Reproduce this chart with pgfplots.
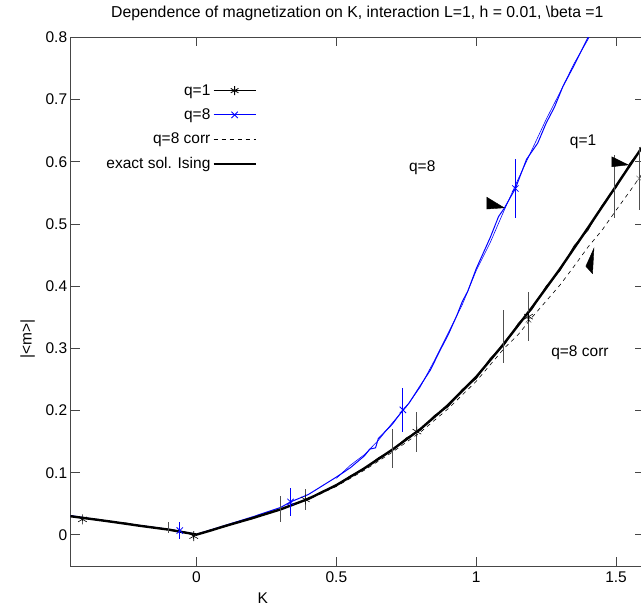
\documentclass[border=0pt]{standalone}
\usepackage{pgfplots}
\pgfplotsset{compat=1.18}
\usepackage{fontspec}
\setmainfont{Liberation Sans}
\definecolor{axgray}{RGB}{70,70,70}
\definecolor{bargray}{RGB}{80,80,80}
\begin{document}
\begin{tikzpicture}[x=1pt,y=1pt]
\begin{axis}[
  at={(70.7pt,42pt)}, anchor=south west,
  scale only axis, width=573.3pt, height=528.6pt,
  xmin=-0.45, xmax=1.6, ymin=-0.05, ymax=0.8,
  xtick={0,0.5,1,1.5}, ytick={0,0.1,0.2,0.3,0.4,0.5,0.6,0.7,0.8},
  tick align=inside, tick pos=both, major tick length=9pt,
  axis line style={axgray, line width=0.9pt},
  every tick/.style={axgray, line width=0.9pt},
  /pgf/number format/assume math mode=true,
  /pgf/number format/fixed,
  font=\fontsize{15.5}{18}\selectfont,
  ticklabel style={font=\fontsize{15.5}{18}\selectfont},
  xticklabel style={yshift=-2pt},
  title={Dependence of magnetization on K, interaction L=1, h = 0.01, \textbackslash beta =1},
  title style={at={(axis description cs:0.5,1.034)}, anchor=center, font=\fontsize{15.8}{18}\selectfont},
  xlabel={K}, xlabel style={at={(axis description cs:0.335,-0.0605)}, anchor=center},
  ylabel={|<m>|}, ylabel style={at={(axis description cs:-0.075,0.43)}, anchor=center},
  legend style={at={(axis description cs:0.325,0.915)}, anchor=north east, draw=none, fill=none,
    font=\fontsize{15.5}{18}\selectfont, row sep=8pt, inner sep=0pt},
  legend cell align=right, legend plot pos=right,
  legend image code/.code={\draw[mark repeat=2,mark phase=2,#1] plot coordinates {(0pt,0pt) (21pt,0pt) (42pt,0pt)};},
  clip=true,
]
\addlegendimage{black, line width=0.8pt, mark=asterisk, mark size=4.5pt}
\addlegendentry{q=1}
\addlegendimage{blue, line width=0.8pt, mark=x, mark size=4.5pt}
\addlegendentry{q=8}
\addlegendimage{black, line width=0.6pt, dash pattern=on 4pt off 4pt}
\addlegendentry{q=8 corr\rule[-10pt]{0pt}{1pt}}
\addlegendimage{black, line width=2.4pt}
\addlegendentry{exact sol. Ising}

% q=8 (blue)
\addplot[blue, line width=1pt, forget plot] coordinates {
(-0.45,0.031) (-0.3,0.021) (-0.1,0.009) (-0.06,0.006) (0,0.001) (0.1,0.015) (0.2,0.029)
(0.3,0.044) (0.336,0.053) (0.4,0.065) (0.45,0.079) (0.5,0.093) (0.55,0.108) (0.6,0.127)
(0.62,0.138) (0.64,0.140) (0.65,0.155) (0.7,0.178) (0.738,0.201) (0.76,0.212) (0.8,0.240)
(0.836,0.265) (0.871,0.297) (0.9,0.322) (0.93,0.352) (0.95,0.375) (0.97,0.392) (1.0,0.428)
(1.05,0.478) (1.08,0.512) (1.10,0.525) (1.14,0.557) (1.18,0.604) (1.22,0.630) (1.25,0.662)
(1.28,0.688) (1.31,0.721) (1.35,0.755) (1.4,0.80) (1.42,0.82)};
\addplot[blue, line width=0.6pt, forget plot] coordinates {
(0.5,0.091) (0.55,0.112) (0.6,0.129) (0.65,0.152) (0.7,0.180) (0.75,0.206) (0.8,0.238)
(0.85,0.280) (0.9,0.325) (0.95,0.370) (1.0,0.425) (1.05,0.470) (1.1,0.522) (1.15,0.572)
(1.2,0.620) (1.25,0.668) (1.3,0.712) (1.35,0.758) (1.4,0.797) (1.42,0.82)};

% q=8 corr (dashed)
\addplot[black, line width=0.6pt, dash pattern=on 4pt off 4pt, forget plot] coordinates {
(-0.45,0.030) (-0.3,0.021) (-0.1,0.009) (0,0.001) (0.1,0.014) (0.2,0.027) (0.3,0.041)
(0.4,0.057) (0.5,0.078) (0.6,0.104) (0.7,0.133) (0.8,0.165) (0.9,0.203) (1.0,0.247)
(1.1,0.300) (1.15,0.322) (1.2,0.350) (1.25,0.376) (1.3,0.402) (1.35,0.432) (1.4,0.463)
(1.45,0.490) (1.5,0.522) (1.55,0.553) (1.6,0.585)};

% q=1 (thin noisy)
\addplot[black, line width=0.7pt, forget plot] coordinates {
(-0.45,0.031) (-0.4,0.026) (-0.35,0.025) (-0.3,0.020) (-0.25,0.019) (-0.2,0.014) (-0.15,0.012)
(-0.1,0.008) (-0.05,0.005) (0,0.000) (0.05,0.008) (0.1,0.013) (0.15,0.021) (0.2,0.026)
(0.25,0.035) (0.3,0.040) (0.35,0.050) (0.4,0.057) (0.45,0.070) (0.5,0.079) (0.55,0.095)
(0.6,0.106) (0.65,0.124) (0.7,0.136) (0.75,0.156) (0.8,0.168) (0.85,0.192) (0.9,0.206)
(0.95,0.234) (1.0,0.251) (1.05,0.284) (1.1,0.305) (1.15,0.340) (1.2,0.363) (1.25,0.400)
(1.3,0.425) (1.35,0.465) (1.4,0.490) (1.45,0.530) (1.5,0.558) (1.55,0.598) (1.6,0.625)};

% exact solution Ising (thick)
\addplot[black, line width=2.4pt, forget plot] coordinates {
(-0.45,0.030) (-0.4,0.027) (-0.3,0.021) (-0.2,0.0145) (-0.1,0.0085) (-0.05,0.0045) (0,0.0005)
(0.05,0.007) (0.1,0.014) (0.2,0.027) (0.3,0.041) (0.4,0.058) (0.5,0.080) (0.6,0.107)
(0.7,0.137) (0.8,0.170) (0.9,0.209) (1.0,0.254) (1.1,0.308) (1.2,0.366) (1.3,0.428)
(1.4,0.494) (1.5,0.561) (1.6,0.628)};

% unmarked error bars
\addplot[draw=none, mark=none, forget plot,
  error bars/.cd, y dir=both, y explicit, error mark=none,
  error bar style={draw=bargray, line width=1pt}] coordinates {
(-0.1,0.012) +- (0,0.009)
(0.30,0.041) +- (0,0.021)
(0.699,0.139) +- (0,0.032)
(1.098,0.319) +- (0,0.043)
(1.494,0.56) +- (0,0.051)};

% q=8 corr markers
\addplot[only marks, mark=x, mark size=4pt, bargray, forget plot,
  error bars/.cd, y dir=both, y explicit, error mark=none,
  error bar style={bargray, line width=1pt}] coordinates {
(1.187,0.346) +- (0,0.0)
(1.583,0.573) +- (0,0.05)};

% q=1 markers
\addplot[only marks, mark=asterisk, mark size=5pt, black, line width=0.6pt, forget plot,
  error bars/.cd, y dir=both, y explicit, error mark=none,
  error bar style={bargray, line width=1pt}] coordinates {
(-0.408,0.025) +- (0,0.002)
(-0.01,-0.002) +- (0,0.004)
(0.389,0.057) +- (0,0.017)
(0.788,0.166) +- (0,0.032)
(1.187,0.351) +- (0,0.040)};

% q=8 markers
\addplot[only marks, mark=x, mark size=4.5pt, blue, line width=0.8pt, forget plot,
  error bars/.cd, y dir=both, y explicit, error mark=none,
  error bar style={blue, line width=1pt}] coordinates {
(-0.06,0.007) +- (0,0.014)
(0.336,0.053) +- (0,0.022)
(0.738,0.201) +- (0,0.036)
(1.14,0.557) +- (0,0.047)};

% arrowheads
\addplot[black, fill=black, forget plot] coordinates {(1.038,0.543) (1.038,0.524) (1.10,0.526)} -- cycle;
\addplot[black, fill=black, forget plot] coordinates {(1.485,0.608) (1.485,0.592) (1.544,0.595)} -- cycle;
\addplot[black, fill=black, forget plot] coordinates {(1.421,0.461) (1.392,0.432) (1.416,0.420)} -- cycle;

\node at (axis cs:0.807,0.59) {q=8};
\node at (axis cs:1.382,0.632) {q=1};
\node at (axis cs:1.371,0.293) {q=8 corr};
\end{axis}
\pgfresetboundingbox
\useasboundingbox (0,0) rectangle (641,608);
\end{tikzpicture}
\end{document}
